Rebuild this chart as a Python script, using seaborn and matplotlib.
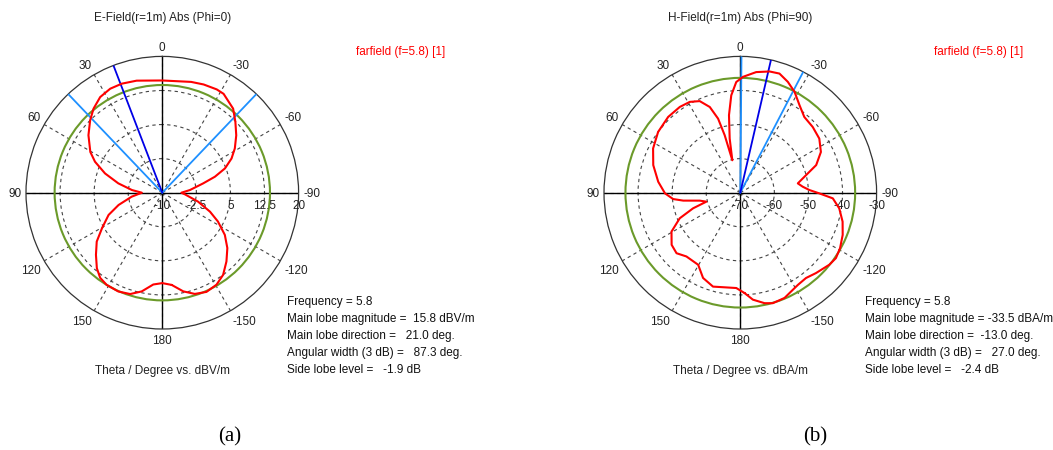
import numpy as np
import pandas as pd
import matplotlib.pyplot as plt
import seaborn as sns

sns.set_style("white")
plt.rcParams['font.family'] = ['Liberation Sans', 'DejaVu Sans']
plt.rcParams['font.size'] = 8

W, H = 1053, 450

# (a) E-Field(r=1m) Abs (Phi=0): theta in deg, level in dBV/m
e_theta = [-174.2, -168.0, -162.2, -156.0, -149.5, -143.5, -137.0, -130.4, -124.0, -117.4,
           -111.7, -104.0, -94.2, -90.0, -84.5, -77.2, -73.1, -68.8, -63.7, -58.6,
           -52.2, -45.9, -40.1, -31.8, -27.8, -20.9, -14.6, 0.0, 12.9, 20.4,
           26.6, 33.0, 39.3, 44.9, 52.1, 60.5, 65.3, 71.4, 78.0, 85.0,
           90.0, 97.4, 105.7, 112.5, 120.5, 126.7, 133.1, 139.1, 143.9, 148.9,
           156.0, 162.4, 168.2, 174.4, 180.0]
e_level = [10.4, 12.2, 13.4, 13.9, 13.5, 12.5, 10.7, 8.8, 6.6, 3.8,
           1.3, -1.9, -5.0, -5.8, -3.9, -0.8, 2.1, 4.8, 7.0, 8.7,
           10.6, 12.4, 14.2, 15.6, 15.7, 15.5, 15.2, 14.7, 15.3, 15.6,
           15.6, 15.1, 13.9, 12.5, 10.6, 8.2, 6.3, 3.3, -0.1, -3.3,
           -5.5, -3.2, 0.0, 2.8, 5.4, 8.0, 10.0, 12.0, 13.2, 13.7,
           13.8, 13.4, 12.2, 10.3, 9.9]

# (b) H-Field(r=1m) Abs (Phi=90): theta in deg, level in dBA/m
h_theta = [-177.5, -173.3, -167.6, -163.6, -157.2, -151.6, -148.0, -142.4, -136.7, -129.0,
           -124.4, -119.1, -112.4, -105.8, -99.0, -93.5, -90.5, -87.8, -84.5, -80.8,
           -75.0, -70.0, -63.2, -55.6, -47.8, -40.2, -34.1, -28.3, -23.2, -18.2,
           -13.6, -7.5, -1.3, 2.1, 5.3, 8.3, 11.1, 13.8, 15.2, 16.7,
           19.6, 23.9, 29.1, 35.2, 43.6, 53.5, 63.1, 72.4, 82.4, 90.5,
           95.4, 97.9, 101.1, 104.8, 108.3, 112.9, 119.5, 127.2, 133.5, 139.8,
           149.7, 156.4, 163.8, 169.6, 177.6]
h_level = [-40.5, -38.4, -36.8, -36.2, -36.5, -37.6, -38.1, -38.4, -37.6, -36.4,
           -36.0, -36.5, -37.5, -38.8, -40.6, -42.8, -46.8, -49.7, -51.6, -52.9,
           -50.0, -46.3, -43.5, -41.9, -41.3, -40.9, -39.0, -36.4, -34.6, -33.2,
           -33.4, -34.3, -36.0, -37.5, -41.3, -47.0, -53.8, -60.2, -52.5, -47.3,
           -43.3, -40.6, -39.5, -39.2, -39.3, -40.0, -41.3, -43.2, -45.7, -47.9,
           -50.2, -53.1, -57.9, -59.7, -55.4, -50.7, -46.8, -44.7, -44.2, -45.5,
           -45.5, -42.7, -41.3, -41.8, -42.0]

theta_ticks = [0, 30, 60, 90, 120, 150, 180, 210, 240, 270, 300, 330]
theta_labels = ['0', '30', '60', '90', '120', '150', '180', '-150', '-120', '-90', '-60', '-30']

e_rings = [-10, -2.5, 5, 12.5, 20]
h_rings = [-70, -60, -50, -40, -30]
e_ring_labels = ['-10', '-2.5', '5', '12.5', '20']
h_ring_labels = ['-70', '-60', '-50', '-40', '-30']

e_3db = 13.7
h_3db = -36.3
e_main_dir = 21.0
h_main_dir = -13.0
e_edges = [43.65, -43.65]
h_edges = [-0.5, -27.5]

e_info = ["Frequency = 5.8",
          "Main lobe magnitude =  15.8 dBV/m",
          "Main lobe direction =   21.0 deg.",
          "Angular width (3 dB) =   87.3 deg.",
          "Side lobe level =   -1.9 dB"]
h_info = ["Frequency = 5.8",
          "Main lobe magnitude = -33.5 dBA/m",
          "Main lobe direction =  -13.0 deg.",
          "Angular width (3 dB) =   27.0 deg.",
          "Side lobe level =   -2.4 dB"]

RED = '#ff0000'
GREEN = '#6b9a2a'
DBLUE = '#0000e6'
LBLUE = '#1e90ff'

fig = plt.figure(figsize=(W / 100, H / 100), dpi=100)


def panel(cx, cy, rad, theta, level, rings, ring_labels, lvl3db, main_dir, edges,
          title, xlabel, info, info_x, legend_x, tag, tag_x):
    ax = fig.add_axes([(cx - rad) / W, 1 - (cy + rad) / H, 2 * rad / W, 2 * rad / H],
                      projection='polar')
    ax.set_theta_zero_location('N')
    ax.set_theta_direction(1)

    df = pd.DataFrame({'theta': theta, 'level': level})
    df = pd.concat([df, df.iloc[:1]], ignore_index=True)
    df['rad'] = np.radians(df['theta'])

    ax.axhline(lvl3db, color=GREEN, lw=1.5, zorder=3)
    for a in [0, 90, 180, 270]:
        ax.axvline(np.radians(a), color='black', lw=1.0, zorder=2)
    for a in edges:
        ax.axvline(np.radians(a), color=LBLUE, lw=1.3, zorder=4)
    ax.axvline(np.radians(main_dir), color=DBLUE, lw=1.3, zorder=4)

    sns.lineplot(data=df, x='rad', y='level', ax=ax, sort=False, estimator=None,
                 color=RED, lw=1.5, zorder=5)

    ax.set_ylim(rings[0], rings[-1])
    ax.set_yticks(rings[1:-1])
    ax.set_yticklabels([])
    ax.set_xticks(np.radians(theta_ticks))
    ax.set_xticklabels([])
    ax.grid(True, color='#444', lw=0.8, linestyle=(0, (3, 3)))
    ax.spines['polar'].set_color('#333')
    ax.spines['polar'].set_linewidth(0.9)
    ax.set_xlabel('')
    ax.set_ylabel('')

    # angle labels just outside the rim, aligned away from the circle
    gap = 3.2
    for a, lbl in zip(theta_ticks, theta_labels):
        ux, uy = -np.sin(np.radians(a)), np.cos(np.radians(a))
        ha = 'center' if abs(ux) < 0.1 else ('right' if ux < 0 else 'left')
        va = 'center' if abs(uy) < 0.1 else ('bottom' if uy > 0 else 'top')
        ax.annotate(lbl, xy=(np.radians(a), rings[-1]), xytext=(gap * ux, gap * uy - 1.2),
                    textcoords='offset points', ha=ha, va=va, fontsize=8.5, color='#222',
                    annotation_clip=False)

    for r, lbl in zip(rings, ring_labels):
        ax.annotate(lbl, xy=(np.radians(270), r), xytext=(0, -5), textcoords='offset points',
                    ha='center', va='top', fontsize=8.5, color='#222')

    fig.text(cx / W, 1 - 18 / H, title, ha='center', va='center', fontsize=8.5, color='#222')
    fig.text(cx / W, 1 - 371 / H, xlabel, ha='center', va='center', fontsize=8.5, color='#222')
    fig.text(legend_x / W, 1 - 52 / H, 'farfield (f=5.8) [1]', ha='left', va='center',
             fontsize=8.5, color=RED)
    for i, line in enumerate(info):
        fig.text(info_x / W, 1 - (301.5 + 17.2 * i) / H, line, ha='left', va='center',
                 fontsize=8.5, color='#111')
    fig.text(tag_x / W, 1 - 437 / H, tag, ha='center', va='center', fontsize=15,
             family='Liberation Serif', color='black')
    return ax


panel(162.3, 192.7, 136.3, e_theta, e_level, e_rings, e_ring_labels, e_3db, e_main_dir,
      e_edges, 'E-Field(r=1m) Abs (Phi=0)', 'Theta / Degree vs. dBV/m', e_info, 287, 356,
      '(a)', 230)
panel(740.3, 192.7, 136.3, h_theta, h_level, h_rings, h_ring_labels, h_3db, h_main_dir,
      h_edges, 'H-Field(r=1m) Abs (Phi=90)', 'Theta / Degree vs. dBA/m', h_info, 865, 934,
      '(b)', 815)

fig.savefig('out.png', dpi=100)
